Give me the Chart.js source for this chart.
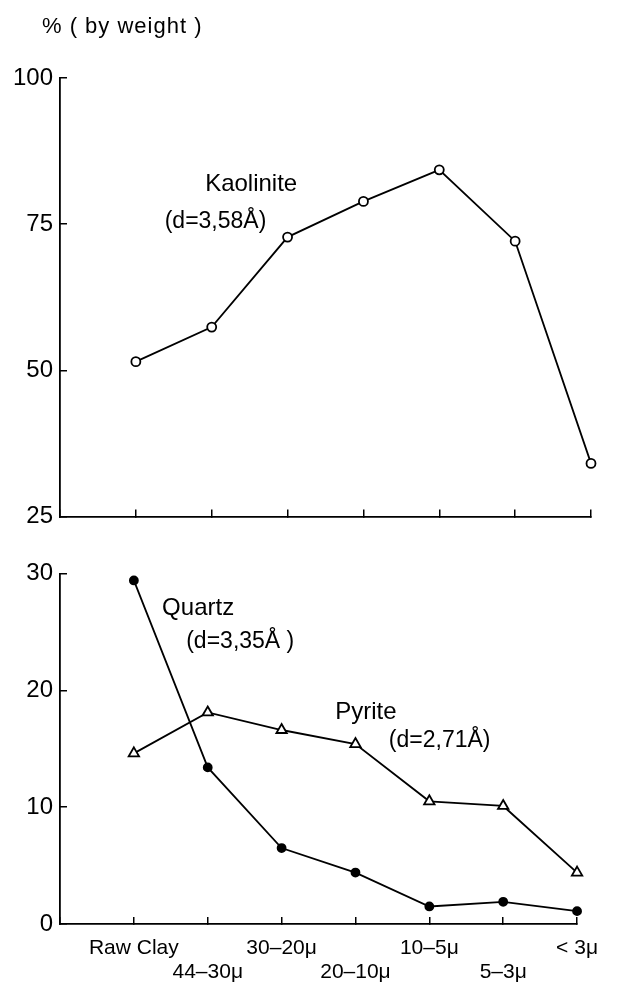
<!DOCTYPE html>
<html>
<head>
<meta charset="utf-8">
<script src="https://cdn.jsdelivr.net/npm/chart.js@4/dist/chart.umd.min.js"></script>
<style>
  html, body { margin: 0; padding: 0; background: #fff; }
  #wrap { position: relative; width: 617px; height: 989px; }
  #title { position: absolute; left: 42px; top: 13px; font: 22px 'Liberation Sans', sans-serif; letter-spacing: 1px; color: #000; }
  #top { position: absolute; left: 0; top: 0; }
  #bottom { position: absolute; left: 0; top: 545px; }
</style>
</head>
<body>
<div id="wrap">
  <canvas id="top" width="617" height="545"></canvas>
  <canvas id="bottom" width="617" height="444"></canvas>
  <div id="title">% ( by weight )</div>
</div>
<script>
// 입도 구간 (x축)
const fractions = ['Raw Clay', '44–30μ', '30–20μ', '20–10μ', '10–5μ', '5–3μ', '< 3μ'];

// 광물 함량 (%)
const kaolinite = [51.5, 57.4, 72.8, 78.9, 84.3, 72.1, 34.1];
const quartz = [29.4, 13.4, 6.5, 4.4, 1.5, 1.9, 1.1];
const pyrite = [14.6, 18.1, 16.6, 15.4, 10.5, 10.1, 4.4];

// y축 눈금
const topTicks = [25, 50, 75, 100];
const bottomTicks = [0, 10, 20, 30];

Chart.defaults.font.family = "'Liberation Sans', sans-serif";
Chart.defaults.color = '#000';

const toPoints = arr => arr.map((v, i) => ({ x: i, y: v }));

// 그림 안의 글자 (x: 구간 번호, y: 값 기준)
const notePlugin = {
    id: 'notes',
    afterDatasetsDraw(chart, args, opts) {
        const ctx = chart.ctx;
        ctx.save();
        ctx.fillStyle = '#000';
        ctx.textAlign = 'center';
        ctx.textBaseline = 'middle';
        (opts.items || []).forEach(n => {
            ctx.font = n.size + "px 'Liberation Sans', sans-serif";
            ctx.fillText(n.text, chart.scales.x.getPixelForValue(n.x), chart.scales.y.getPixelForValue(n.y));
        });
        ctx.restore();
    }
};

function xAxis(showLabels, height) {
    return {
        type: 'linear',
        min: -1,
        max: 6,
        afterFit: s => { s.height = height; },
        border: { display: true, color: '#000', width: 1.8 },
        grid: { drawOnChartArea: false, drawTicks: true, tickLength: -7, color: '#000', lineWidth: 1.5 },
        ticks: {
            display: showLabels,
            stepSize: 1,
            autoSkip: false,
            maxRotation: 0,
            padding: 19,
            font: { size: 21, lineHeight: 1.15 },
            callback: (v) => {
                if (v < 0 || v > 6) return '';
                return v % 2 === 0 ? fractions[v] : ['', fractions[v]];
            }
        }
    };
}

function yAxis(min, max, step, tickList) {
    return {
        min: min,
        max: max,
        afterFit: s => { s.width = 60; },
        afterBuildTicks: s => { s.ticks = tickList.map(v => ({ value: v })); },
        border: { display: true, color: '#000', width: 1.8 },
        grid: { drawOnChartArea: false, drawTicks: true, tickLength: -7, color: '#000', lineWidth: 1.5 },
        ticks: { stepSize: step, padding: 14, font: { size: 24 } }
    };
}

const lineStyle = {
    borderColor: '#000',
    borderWidth: 1.8,
    tension: 0,
    clip: false,
    pointBorderColor: '#000',
    pointBorderWidth: 1.8
};

// 위쪽: 카올리나이트
new Chart(document.getElementById('top'), {
    type: 'line',
    data: {
        datasets: [{
            ...lineStyle,
            label: 'Kaolinite',
            data: toPoints(kaolinite),
            pointStyle: 'circle',
            pointRadius: 4.5,
            pointBackgroundColor: '#fff'
        }]
    },
    options: {
        responsive: false,
        animation: false,
        layout: { padding: { top: 78, right: 26, left: 0, bottom: 0 } },
        plugins: {
            legend: { display: false },
            tooltip: { enabled: false },
            notes: {
                items: [
                    { text: 'Kaolinite', x: 1.52, y: 81.8, size: 24 },
                    { text: '(d=3,58Å)', x: 1.05, y: 75.4, size: 23 }
                ]
            }
        },
        scales: {
            x: xAxis(false, 13),
            y: yAxis(25, 100, 25, topTicks)
        }
    },
    plugins: [notePlugin]
});

// 아래쪽: 석영, 황철석
new Chart(document.getElementById('bottom'), {
    type: 'line',
    data: {
        datasets: [
            {
                ...lineStyle,
                label: 'Quartz',
                data: toPoints(quartz),
                pointStyle: 'circle',
                pointRadius: 4,
                pointBackgroundColor: '#000'
            },
            {
                ...lineStyle,
                label: 'Pyrite',
                data: toPoints(pyrite),
                pointStyle: 'triangle',
                pointRadius: 6,
                pointBackgroundColor: '#fff'
            }
        ]
    },
    options: {
        responsive: false,
        animation: false,
        layout: { padding: { top: 17, right: 26, left: 0, bottom: 0 } },
        plugins: {
            legend: { display: false },
            tooltip: { enabled: false },
            notes: {
                items: [
                    { text: 'Quartz', x: 0.87, y: 27.0, size: 24 },
                    { text: '(d=3,35Å )', x: 1.44, y: 24.2, size: 23 },
                    { text: 'Pyrite', x: 3.14, y: 18.1, size: 24 },
                    { text: '(d=2,71Å)', x: 4.14, y: 15.7, size: 23 }
                ]
            }
        },
        scales: {
            x: xAxis(true, 65),
            y: yAxis(0, 30, 10, bottomTicks)
        }
    },
    plugins: [notePlugin]
});
</script>
</body>
</html>
